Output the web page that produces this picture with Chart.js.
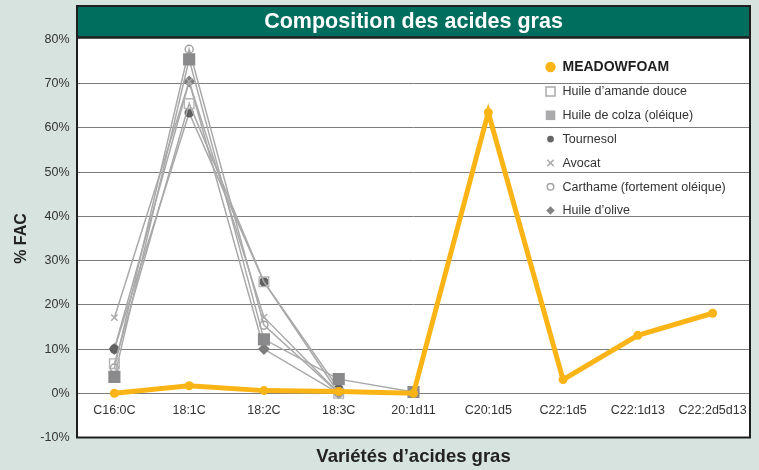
<!DOCTYPE html>
<html>
<head>
    <script src="https://cdn.jsdelivr.net/npm/chart.js"></script>
    <style>
        body {
            margin: 0;
            background-color: #d6e3de;
        }

        .chart-box {
            width: 759px;
            height: 470px;
        }
    </style>
</head>
<body>

    <div class="chart-box">
        <canvas id="fatChart"></canvas>
    </div>

    <script>
        // Texts
        const chartTitle = "Composition des acides gras";
        const xTitle = "Variétés d’acides gras";
        const yTitle = "% FAC";

        // Categories (x axis)
        const categories = ["C16:0C", "18:1C", "18:2C", "18:3C", "20:1d11", "C20:1d5", "C22:1d5", "C22:1d13", "C22:2d5d13"];

        // Series names
        const seriesNames = ["MEADOWFOAM", "Huile d’amande douce", "Huile de colza (oléique)", "Tournesol", "Avocat", "Carthame (fortement oléique)", "Huile d’olive"];

        // Series values (% of fatty acids)
        const meadowfoam = [0, 1.7, 0.6, 0.4, 0, 63.5, 3.1, 13.1, 18.1];
        const amande = [6.7, 65.5, 25.2, 0, null, null, null, null, null];
        const colza = [3.7, 75.5, 12.2, 3.2, 0.3, null, null, null, null];
        const tournesol = [10, 63.4, 25.2, 1, null, null, null, null, null];
        const avocat = [17.1, 70.5, 17.2, 0, null, null, null, null, null];
        const carthame = [5.7, 77.8, 15.4, 0, null, null, null, null, null];
        const olive = [10, 70.5, 10, 0, null, null, null, null, null];

        // y ticks
        const yMin = -10;
        const yMax = 80;
        const yStep = 10;

        const orange = "#fbb416";
        const greyLine = "#a9a9a9";

        Chart.defaults.font.family = "'Liberation Sans', Arial, sans-serif";

        function greySeries(label, data, style, radius, fill, border) {
            return {
                label: label,
                data: data,
                borderColor: greyLine,
                borderWidth: 1.5,
                pointStyle: style,
                pointRadius: radius,
                pointBackgroundColor: fill,
                pointBorderColor: border,
                pointBorderWidth: 1.4,
                fill: false,
                tension: 0
            };
        }

        // small marker for the legend
        function drawMarker(ctx, style, x, y, r, fill, stroke) {
            ctx.save();
            ctx.beginPath();
            if (style === "circle") {
                ctx.arc(x, y, r, 0, Math.PI * 2);
            } else if (style === "rect") {
                ctx.rect(x - r, y - r, r * 2, r * 2);
            } else if (style === "rectRot") {
                ctx.moveTo(x, y - r);
                ctx.lineTo(x + r, y);
                ctx.lineTo(x, y + r);
                ctx.lineTo(x - r, y);
                ctx.closePath();
            } else if (style === "crossRot") {
                ctx.moveTo(x - r, y - r);
                ctx.lineTo(x + r, y + r);
                ctx.moveTo(x + r, y - r);
                ctx.lineTo(x - r, y + r);
            }
            if (fill) {
                ctx.fillStyle = fill;
                ctx.fill();
            }
            if (stroke) {
                ctx.strokeStyle = stroke;
                ctx.lineWidth = 1.5;
                ctx.stroke();
            }
            ctx.restore();
        }

        const legendMarkers = [
            { style: "circle", r: 5.2, fill: orange, stroke: null },
            { style: "rect", r: 4.5, fill: null, stroke: "#a9a9a9" },
            { style: "rect", r: 4.8, fill: "#ababad", stroke: null },
            { style: "circle", r: 3.4, fill: "#666666", stroke: null },
            { style: "crossRot", r: 3.2, fill: null, stroke: "#ababab" },
            { style: "circle", r: 3.3, fill: null, stroke: "#a5a5a5" },
            { style: "rectRot", r: 4.3, fill: "#858585", stroke: null }
        ];

        const panelPlugin = {
            id: "panel",
            beforeDraw(chart) {
                const ctx = chart.ctx;
                const a = chart.chartArea;
                ctx.save();
                ctx.fillStyle = "#d6e3de";
                ctx.fillRect(0, 0, chart.width, chart.height);
                ctx.fillStyle = "#ffffff";
                ctx.fillRect(a.left, 6, a.right - a.left, a.bottom - 6);
                // title band
                ctx.fillStyle = "#006e5e";
                ctx.fillRect(a.left, 6, a.right - a.left, 31);
                ctx.fillStyle = "#ffffff";
                ctx.font = "bold 21.5px 'Liberation Sans', Arial, sans-serif";
                ctx.textAlign = "center";
                ctx.textBaseline = "middle";
                ctx.fillText(chartTitle, (a.left + a.right) / 2, 22);
                ctx.restore();
            },
            afterDraw(chart) {
                const ctx = chart.ctx;
                const a = chart.chartArea;
                ctx.save();
                // frame
                ctx.strokeStyle = "#1f1f1f";
                ctx.lineWidth = 2;
                ctx.strokeRect(a.left, 6, a.right - a.left, a.bottom - 6);
                ctx.lineWidth = 2.5;
                ctx.beginPath();
                ctx.moveTo(a.left, 37.5);
                ctx.lineTo(a.right, 37.5);
                ctx.stroke();

                // legend
                const lx = 550.5;
                seriesNames.forEach((name, i) => {
                    const y = i === 0 ? 67 : 91.5 + (i - 1) * 23.8;
                    const m = legendMarkers[i];
                    drawMarker(ctx, m.style, lx, y, m.r, m.fill, m.stroke);
                    ctx.fillStyle = i === 0 ? "#1e1e1e" : "#333333";
                    ctx.font = (i === 0 ? "bold 14px " : "12.5px ") + "'Liberation Sans', Arial, sans-serif";
                    ctx.textAlign = "left";
                    ctx.textBaseline = "middle";
                    ctx.fillText(name, 562.5, y + 0.5);
                });
                ctx.restore();
            }
        };

        const ctx = document.getElementById("fatChart").getContext("2d");
        const chart = new Chart(ctx, {
            type: "line",
            data: {
                labels: categories,
                datasets: [
                    {
                        label: seriesNames[0],
                        data: meadowfoam,
                        borderColor: orange,
                        borderWidth: 5,
                        pointStyle: "circle",
                        pointRadius: 4.5,
                        pointBackgroundColor: orange,
                        pointBorderColor: orange,
                        pointBorderWidth: 0,
                        fill: false,
                        tension: 0
                    },
                    greySeries(seriesNames[1], amande, "rect", 6.8, "rgba(255,255,255,0)", "#b3b3b3"),
                    greySeries(seriesNames[2], colza, "rect", 7.6, "#8a8a8c", "#8a8a8c"),
                    greySeries(seriesNames[3], tournesol, "circle", 4, "#616161", "#616161"),
                    greySeries(seriesNames[4], avocat, "crossRot", 4.5, "#a8a8a8", "#a8a8a8"),
                    greySeries(seriesNames[5], carthame, "circle", 4, "rgba(255,255,255,0)", "#a0a0a0"),
                    greySeries(seriesNames[6], olive, "rectRot", 5, "#7d7d7d", "#7d7d7d")
                ]
            },
            options: {
                responsive: true,
                maintainAspectRatio: false,
                animation: false,
                layout: {
                    padding: { left: 8, right: 8, top: 39.5, bottom: 0 }
                },
                plugins: {
                    legend: { display: false },
                    tooltip: { enabled: false }
                },
                scales: {
                    x: {
                        offset: true,
                        grid: { display: false, drawTicks: false },
                        border: { display: false },
                        ticks: { display: false },
                        title: {
                            display: true,
                            text: xTitle,
                            color: "#222222",
                            font: { size: 18.5, weight: "bold" },
                            padding: { top: 0, bottom: 2 }
                        },
                        afterFit(scale) {
                            scale.height = 32.5;
                        }
                    },
                    // category labels sit on the 0 % line, inside the plot
                    x2: {
                        type: "category",
                        labels: categories,
                        position: { y: 0 },
                        offset: true,
                        grid: { display: false, drawTicks: false },
                        border: { display: false },
                        ticks: {
                            padding: 9.5,
                            color: "#333333",
                            font: { size: 12.5 },
                            maxRotation: 0,
                            autoSkip: false
                        }
                    },
                    y: {
                        min: yMin,
                        max: yMax,
                        grid: {
                            drawTicks: false,
                            lineWidth: 1,
                            color: (c) => (c.tick && (c.tick.value === yMax || c.tick.value === yMin)) ? "rgba(0,0,0,0)" : "#7c7c7c"
                        },
                        border: { display: false },
                        ticks: {
                            stepSize: yStep,
                            padding: 7.5,
                            color: "#333333",
                            font: { size: 12.5 },
                            callback: (v) => v + "%"
                        },
                        title: {
                            display: true,
                            text: yTitle,
                            color: "#222222",
                            font: { size: 16, weight: "bold" },
                            padding: { top: 4, bottom: 0 }
                        },
                        afterFit(scale) {
                            scale.width = 69;
                        }
                    }
                }
            },
            plugins: [panelPlugin]
        });
    </script>

</body>
</html>
